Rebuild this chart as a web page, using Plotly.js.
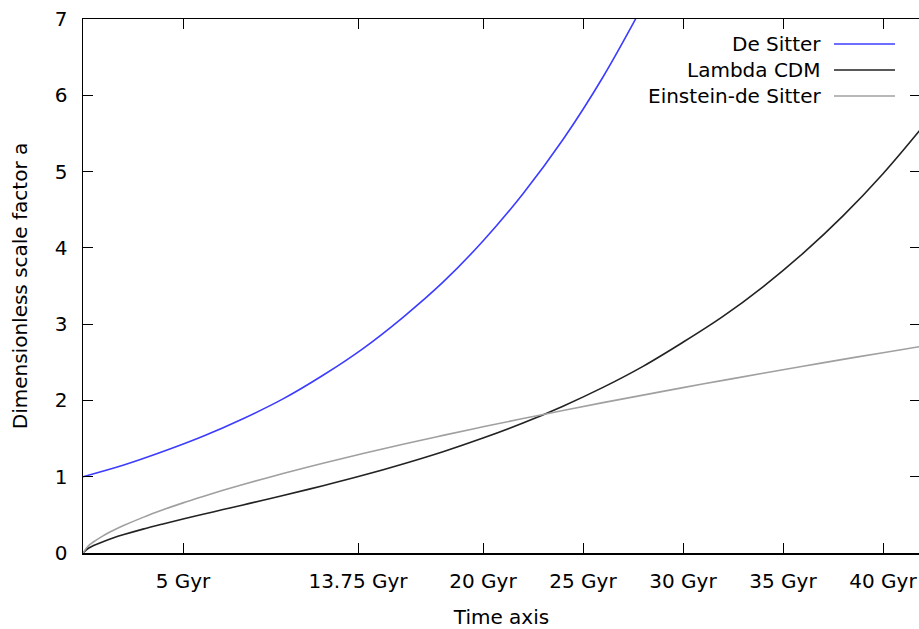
<!DOCTYPE html>
<html>
<head>
<meta charset="utf-8">
<script src="https://cdn.plot.ly/plotly-3.0.1.min.js"></script>
<style>
html,body{margin:0;padding:0;overflow:hidden;background:#fff;}
#chart{width:926px;height:629px;}
</style>
</head>
<body>
<div id="chart"></div>
<script>
// Time (Gyr) samples and scale factor readings
const tDeSitter = [0, 2, 4, 6, 8, 10, 12, 14, 16, 18, 20, 22, 24, 26, 28];
const aDeSitter = [1.00, 1.15, 1.33, 1.53, 1.76, 2.02, 2.33, 2.68, 3.09, 3.55, 4.09, 4.71, 5.42, 6.24, 7.18];

const tLambda = [0, 0.25, 0.5, 1, 1.5, 2, 3, 4, 5, 6, 7, 8, 9, 10, 12, 14, 16, 18, 20, 22, 24, 26, 28, 30, 32, 34, 36, 38, 40, 42];
const aLambda = [0, 0.059, 0.094, 0.149, 0.196, 0.238, 0.313, 0.381, 0.446, 0.508, 0.569, 0.630, 0.692, 0.754, 0.882, 1.018, 1.167, 1.328, 1.507, 1.704, 1.925, 2.171, 2.447, 2.763, 3.102, 3.490, 3.928, 4.419, 4.972, 5.592];

const tEdS = [0, 0.25, 0.5, 1, 1.5, 2, 3, 4, 5, 6, 7, 8, 9, 10, 12, 14, 16, 18, 20, 22, 24, 26, 28, 30, 32, 34, 36, 38, 40, 42];
const aEdS = [0, 0.089, 0.141, 0.225, 0.294, 0.356, 0.467, 0.566, 0.657, 0.741, 0.822, 0.898, 0.971, 1.042, 1.177, 1.304, 1.426, 1.542, 1.654, 1.763, 1.868, 1.971, 2.070, 2.168, 2.263, 2.356, 2.448, 2.538, 2.626, 2.713];

const xTickVals = [5, 13.75, 20, 25, 30, 35, 40];
const xTickText = ["5 Gyr", "13.75 Gyr", "20 Gyr", "25 Gyr", "30 Gyr", "35 Gyr", "40 Gyr"];

const seriesNames = ["De Sitter", "Lambda CDM", "Einstein-de Sitter"];
const seriesColors = ["#3c3cff", "#222222", "#a0a0a0"];

const FONT = "DejaVu Sans";

const traces = [
  {x: tDeSitter, y: aDeSitter, name: seriesNames[0]},
  {x: tLambda, y: aLambda, name: seriesNames[1]},
  {x: tEdS, y: aEdS, name: seriesNames[2]}
].map((tr, i) => Object.assign(tr, {
  type: "scatter", mode: "lines",
  line: {color: seriesColors[i], width: 1.6, shape: "spline", smoothing: 1},
  hoverinfo: "skip", showlegend: false
}));

// Legend (text right-aligned, sample line to the right) drawn in paper space
const annotations = [];
const shapes = [];
const rowY = [44, 70, 96]; // px from top
const plotTop = 19, plotH = 534, plotL = 83, plotW = 837;
function py(p) { return 1 - (p - plotTop) / plotH; }
function px(p) { return (p - plotL) / plotW; }
seriesNames.forEach((n, i) => {
  annotations.push({
    xref: "paper", yref: "paper", x: px(823), y: py(rowY[i]),
    xanchor: "right", yanchor: "middle", showarrow: false, text: n,
    font: {family: FONT, size: 20, color: "#000"}
  });
  shapes.push({
    type: "line", xref: "paper", yref: "paper",
    x0: px(834), x1: px(895), y0: py(rowY[i]), y1: py(rowY[i]),
    line: {color: seriesColors[i], width: 1.6}
  });
});

const layout = {
  width: 926, height: 629,
  margin: {l: 83, r: 6, t: 19, b: 76},
  paper_bgcolor: "#fff", plot_bgcolor: "#fff",
  font: {family: FONT, size: 20, color: "#000"},
  showlegend: false,
  xaxis: {
    range: [0, 41.85], tickmode: "array", tickvals: xTickVals, ticktext: xTickText,
    ticks: "inside", ticklen: 10, tickwidth: 1, tickcolor: "#000",
    showline: true, linecolor: "#000", linewidth: 1.5, mirror: "ticks",
    showgrid: false, zeroline: false, ticklabelstandoff: 9,
    title: {text: "Time axis", font: {family: FONT, size: 20}, standoff: 19},
    automargin: false, fixedrange: true
  },
  yaxis: {
    range: [0, 7], dtick: 1, tick0: 0,
    ticks: "inside", ticklen: 10, tickwidth: 1, tickcolor: "#000",
    showline: true, linecolor: "#000", linewidth: 1.5, mirror: "ticks",
    showgrid: false, zeroline: false, ticklabelstandoff: 10,
    title: {text: "Dimensionless scale factor a", font: {family: FONT, size: 20}, standoff: 22},
    automargin: false, fixedrange: true
  },
  annotations: annotations,
  shapes: shapes
};

Plotly.newPlot("chart", traces, layout, {displayModeBar: false, staticPlot: true});
</script>
</body>
</html>
